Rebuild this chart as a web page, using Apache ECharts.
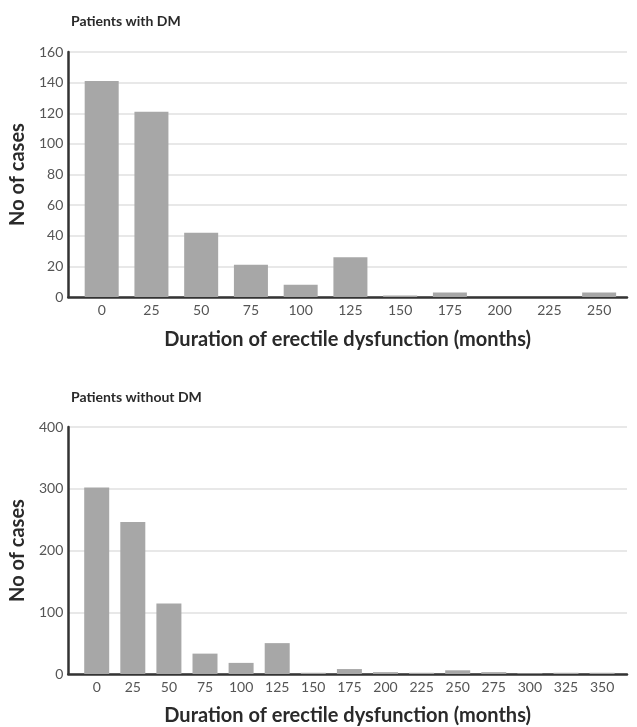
<!DOCTYPE html>
<html>
<head>
<meta charset="utf-8">
<script src="https://cdn.jsdelivr.net/npm/echarts@6/dist/echarts.min.js"></script>
<style>html,body{margin:0;padding:0;background:#fff;}#c{width:637px;height:727px;}</style>
</head>
<body>
<div id="c"></div>
<script>
var catsDM = ['0','25','50','75','100','125','150','175','200','225','250'];
var valsDM = [141, 121, 42, 21, 8, 26, 1, 3, 0, 0, 3];
var catsNoDM = ['0','25','50','75','100','125','150','175','200','225','250','275','300','325','350'];
var valsNoDM = [302, 246, 114, 33, 18, 50, 2, 8, 3, 2, 6, 3, 1, 2, 2];
var yTicksDM = [0, 20, 40, 60, 80, 100, 120, 140, 160];
var yTicksNoDM = [0, 100, 200, 300, 400];
var titleDM = 'Patients with DM';
var titleNoDM = 'Patients without DM';
var yName = 'No of cases';
var xName = 'Duration of erectile dysfunction (months)';

var FONT = 'Lato';
var chart = echarts.init(document.getElementById('c'), null, {renderer: 'canvas'});

function idxList(cats) { return cats.map(function (c, i) { return i; }); }
function pairs(vals) { return vals.map(function (v, i) { return [i, v]; }); }

function xAxis(idx, cats, lo, hi, gap) {
  return {
    type: 'value', gridIndex: idx, min: lo, max: hi,
    name: xName, nameLocation: 'middle', nameGap: gap,
    nameTextStyle: {fontFamily: FONT, fontWeight: 'bold', fontSize: 20, color: '#2a2a2a'},
    axisLine: {show: true, onZero: false, lineStyle: {color: '#333', width: 2.5}},
    axisTick: {show: false},
    splitLine: {show: false},
    axisLabel: {
      fontFamily: FONT, fontSize: 14, color: '#555', margin: 6,
      customValues: idxList(cats),
      formatter: function (v) { return cats[Math.round(v)]; }
    }
  };
}
function yAxis(idx, ticks) {
  return {
    type: 'value', gridIndex: idx, min: ticks[0], max: ticks[ticks.length - 1],
    interval: ticks[1] - ticks[0],
    name: yName, nameLocation: 'middle', nameGap: 40,
    nameTextStyle: {fontFamily: FONT, fontWeight: 'bold', fontSize: 20, color: '#2a2a2a'},
    axisLine: {show: true, onZero: false, lineStyle: {color: '#333', width: 2.5}},
    axisTick: {show: false},
    axisLabel: {fontFamily: FONT, fontSize: 14, color: '#555', margin: 5},
    splitLine: {lineStyle: {color: '#e0e0e0', width: 1.5}}
  };
}

chart.setOption({
  animation: false,
  title: [
    {text: titleDM, left: 66, top: 9, textStyle: {fontFamily: FONT, fontWeight: 'bold', fontSize: 14, color: '#2a2a2a'}},
    {text: titleNoDM, left: 66, top: 385, textStyle: {fontFamily: FONT, fontWeight: 'bold', fontSize: 14, color: '#2a2a2a'}}
  ],
  grid: [
    {left: 67, top: 52, width: 560, height: 245},
    {left: 67, top: 427, width: 560, height: 248}
  ],
  xAxis: [xAxis(0, catsDM, -0.672, 10.56, 33), xAxis(1, catsNoDM, -0.788, 14.69, 32)],
  yAxis: [yAxis(0, yTicksDM), yAxis(1, yTicksNoDM)],
  series: [
    {type: 'bar', xAxisIndex: 0, yAxisIndex: 0, data: pairs(valsDM), barWidth: 34,
     itemStyle: {color: '#a7a7a7'}},
    {type: 'bar', xAxisIndex: 1, yAxisIndex: 1, data: pairs(valsNoDM), barWidth: 25,
     itemStyle: {color: '#a7a7a7'}}
  ]
});
</script>
</body>
</html>
